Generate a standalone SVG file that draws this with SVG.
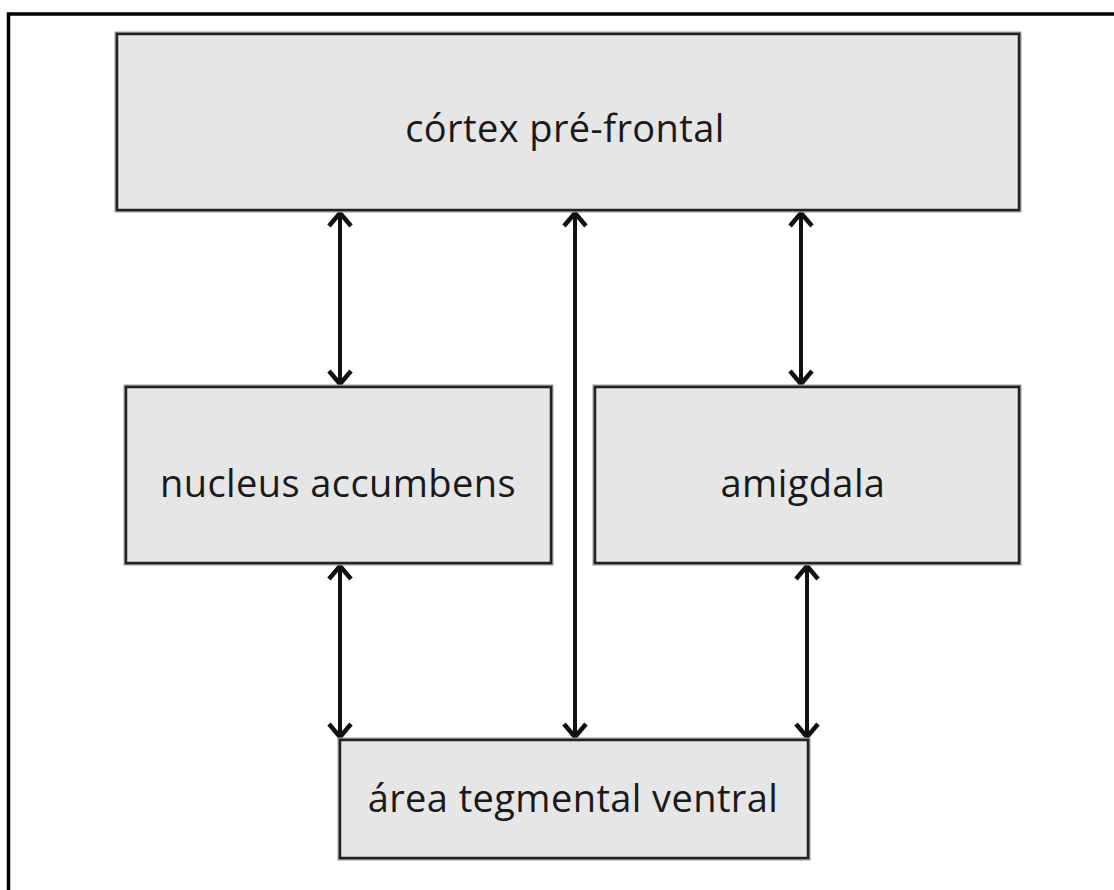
<svg xmlns="http://www.w3.org/2000/svg" width="1114" height="890" viewBox="0 0 1114 890">
  <style>
    .box { fill: #e6e6e6; stroke: #222; stroke-width: 2.5; }
    .halo { fill: none; stroke: #9a9a9a; stroke-width: 5; }
    .label { font-family: "Open Sans", "Liberation Sans", sans-serif; font-size: 38px; letter-spacing: 0.4px; fill: #1a1a1a; text-anchor: middle; }
    .conn { stroke: #111; stroke-width: 4; fill: none; }
  </style>
  <defs>
    <marker id="arrow" viewBox="0 0 24 28" refX="21" refY="14" markerWidth="24" markerHeight="28" markerUnits="userSpaceOnUse" orient="auto-start-reverse">
      <path d="M 7 3 L 20 14 L 7 25" fill="none" stroke="#111" stroke-width="4.5" stroke-linejoin="miter"/>
    </marker>
  </defs>
  <rect width="1114" height="890" fill="#fff"/>
  <!-- frame: left and top edges only -->
  <path d="M 8.5 890 L 8.5 14 L 1114 14" fill="none" stroke="#000" stroke-width="3.5"/>

  <g id="connectors">
    <line class="conn" x1="340" y1="212" x2="340" y2="385" marker-start="url(#arrow)" marker-end="url(#arrow)"/>
    <line class="conn" x1="575" y1="212" x2="575" y2="738" marker-start="url(#arrow)" marker-end="url(#arrow)"/>
    <line class="conn" x1="801" y1="212" x2="801" y2="385" marker-start="url(#arrow)" marker-end="url(#arrow)"/>
    <line class="conn" x1="340" y1="565" x2="340" y2="738" marker-start="url(#arrow)" marker-end="url(#arrow)"/>
    <line class="conn" x1="807" y1="565" x2="807" y2="738" marker-start="url(#arrow)" marker-end="url(#arrow)"/>
  </g>

  <g id="cortex">
    <rect class="halo" x="117" y="34" width="902" height="176"/>
    <rect class="box" x="117" y="34" width="902" height="176"/>
    <text class="label" x="565" y="142">córtex pré-frontal</text>
  </g>
  <g id="nucleus">
    <rect class="halo" x="126" y="387" width="425" height="176"/>
    <rect class="box" x="126" y="387" width="425" height="176"/>
    <text class="label" x="338" y="497">nucleus accumbens</text>
  </g>
  <g id="amigdala">
    <rect class="halo" x="595" y="387" width="424" height="176"/>
    <rect class="box" x="595" y="387" width="424" height="176"/>
    <text class="label" x="803" y="497">amigdala</text>
  </g>
  <g id="atv">
    <rect class="halo" x="340" y="740" width="468" height="118"/>
    <rect class="box" x="340" y="740" width="468" height="118"/>
    <text class="label" x="573" y="812">área tegmental ventral</text>
  </g>
</svg>
